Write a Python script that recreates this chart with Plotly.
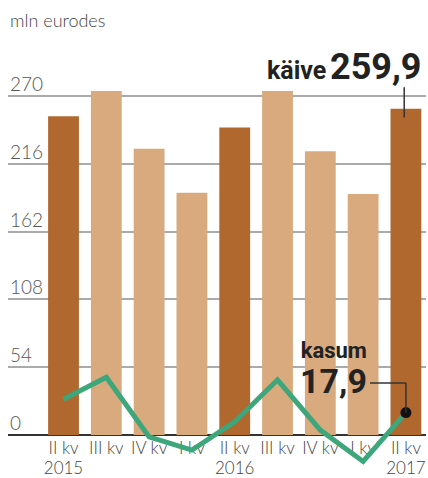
import plotly.graph_objects as go

quarters = ["II kv", "III kv", "IV kv", "I kv", "II kv", "III kv", "IV kv", "I kv", "II kv"]
years = ["2015", "", "", "", "2016", "", "", "", "2017"]
kaive = [254, 274, 228, 193, 245, 274, 226, 192, 259.9]
kasum = [28.5, 46, -1.5, -12, 10.5, 44, 4, -21, 17.9]
ytick_vals = [0, 54, 108, 162, 216, 270]

xs = list(range(len(quarters)))
dark = "#B0682F"
light = "#D8AA7E"
bar_colors = [dark if q == "II kv" else light for q in quarters]
label_font = dict(family="Lato", size=17, color="#444", weight=300)

fig = go.Figure()
fig.add_trace(go.Bar(x=xs, y=kaive, width=0.72, marker=dict(color=bar_colors, line=dict(width=0)),
                     hoverinfo="skip"))
# x tick labels as text (under the line)
fig.add_trace(go.Scatter(x=xs, y=[-11.5] * len(xs), mode="text", text=quarters, cliponaxis=False,
                         textfont=label_font, hoverinfo="skip"))
fig.add_trace(go.Scatter(x=xs, y=[-27.5] * len(xs), mode="text", text=years, cliponaxis=False,
                         textfont=label_font, hoverinfo="skip"))
fig.add_trace(go.Scatter(x=xs, y=kasum, mode="lines", line=dict(color="#3DA67A", width=5),
                         hoverinfo="skip"))
fig.add_trace(go.Scatter(x=[xs[-1]], y=[kasum[-1]], mode="markers",
                         marker=dict(color="#111", size=11), hoverinfo="skip"))

annotations = []
for v in ytick_vals:
    annotations.append(dict(x=0, xref="paper", y=v, yref="y", text=str(v), showarrow=False,
                            xanchor="left", yanchor="bottom", yshift=-1,
                            font=dict(family="Lato", size=19, color="#555", weight=300)))
annotations.append(dict(x=0, xref="paper", y=1.022, yref="paper", text="mln eurodes",
                        showarrow=False, xanchor="left", yanchor="middle",
                        font=dict(family="Lato", size=18, color="#444", weight=300)))
annotations.append(dict(x=8.4, y=293, xref="x", yref="y", text="<b>259,9</b>", showarrow=False,
                        xanchor="right", yanchor="middle",
                        font=dict(family="Roboto", size=36, color="#222")))
annotations.append(dict(x=6.18, y=290, xref="x", yref="y", text="<b>käive</b>", showarrow=False,
                        xanchor="right", yanchor="middle",
                        font=dict(family="Roboto", size=25, color="#222")))
annotations.append(dict(x=7.13, y=52, xref="x", yref="y", align="right",
                        text="<span style='font-size:22px'><b>kasum</b></span><br>"
                             "<span style='font-size:34px'><b>17,9</b></span>",
                        showarrow=False, xanchor="right", yanchor="middle",
                        font=dict(family="Roboto", size=27, color="#222")))

shapes = [
    dict(type="line", xref="x", yref="y", x0=7.96, x1=7.96, y0=277, y1=253,
         line=dict(color="#333", width=1.5)),
    dict(type="line", xref="x", yref="y", x0=7.16, x1=8.0, y0=41.5, y1=41.5,
         line=dict(color="#333", width=1.5)),
    dict(type="line", xref="x", yref="y", x0=8.0, x1=8.0, y0=41.5, y1=kasum[-1],
         line=dict(color="#333", width=1.5)),
]

fig.update_layout(
    width=428, height=478,
    margin=dict(l=8, r=2, t=30, b=0),
    paper_bgcolor="white", plot_bgcolor="white",
    showlegend=False,
    bargap=0.28,
    xaxis=dict(range=[-1.297, 8.469], showgrid=False, zeroline=False, showticklabels=False,
               showline=False, fixedrange=True),
    yaxis=dict(range=[-34.2, 322.6], tickvals=ytick_vals[1:], showgrid=True, gridcolor="#AAAAAA",
               gridwidth=1.5, zeroline=True, zerolinecolor="#333", zerolinewidth=1.5,
               showticklabels=False, showline=False, fixedrange=True),
    annotations=annotations,
    shapes=shapes,
)

fig.write_html("out.html", config={"displayModeBar": False},
               post_script="document.body.style.margin='0px';document.body.style.overflow='hidden';")
